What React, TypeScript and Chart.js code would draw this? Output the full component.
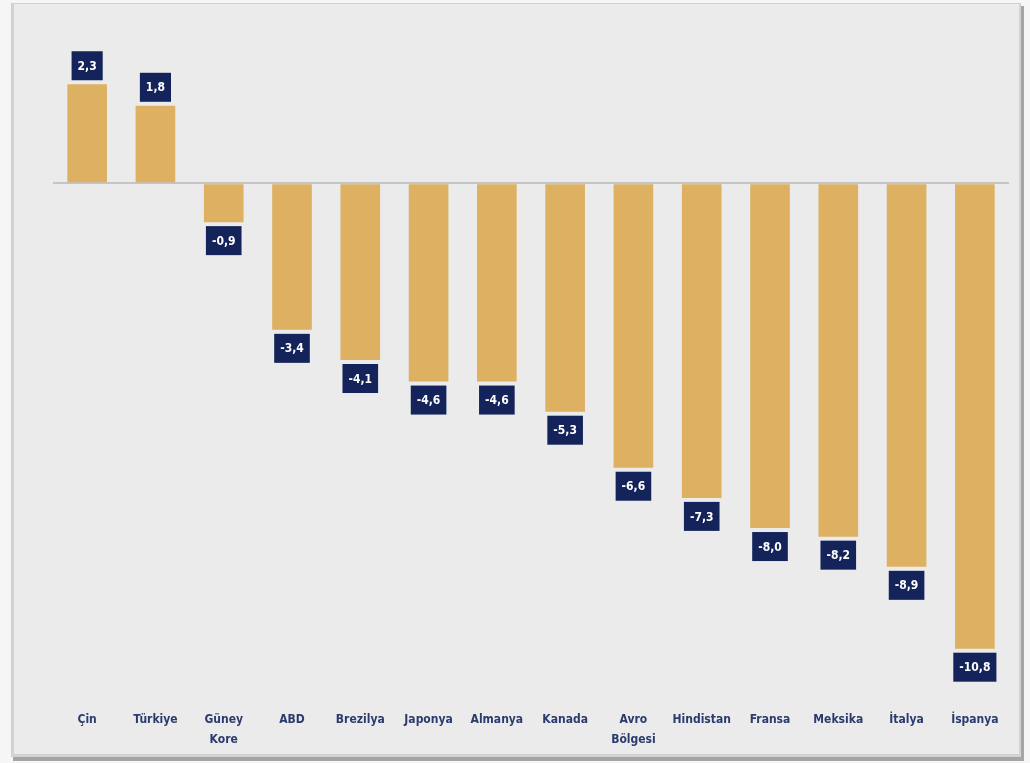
import React, { useEffect, useRef } from "react";
import { Chart, registerables } from "chart.js";

Chart.register(...registerables);

const categories: (string | string[])[] = [
  "Çin",
  "Türkiye",
  ["Güney", "Kore"],
  "ABD",
  "Brezilya",
  "Japonya",
  "Almanya",
  "Kanada",
  ["Avro", "Bölgesi"],
  "Hindistan",
  "Fransa",
  "Meksika",
  "İtalya",
  "İspanya",
];

const values: number[] = [2.3, 1.8, -0.9, -3.4, -4.1, -4.6, -4.6, -5.3, -6.6, -7.3, -8.0, -8.2, -8.9, -10.8];

const valueLabels: string[] = values.map((v) => v.toFixed(1).replace(".", ","));

const FONT = "'DejaVu Sans Condensed', 'Liberation Sans Narrow', 'Liberation Sans', sans-serif";

const backgroundPlugin = {
  id: "panelBg",
  beforeDraw(chart: any) {
    const ctx = chart.ctx;
    const w = chart.width;
    const h = chart.height;
    ctx.save();
    ctx.fillStyle = "#F6F6F6";
    ctx.fillRect(0, 0, w, h);
    ctx.fillStyle = "#A5A5A5";
    ctx.fillRect(13, 6, w - 13 - 6, h - 6 - 2);
    ctx.fillStyle = "#D2D2D2";
    ctx.fillRect(11, 3, w - 11 - 9, h - 3 - 6);
    ctx.fillStyle = "#EBEBEB";
    ctx.fillRect(14, 4, w - 14 - 11, h - 4 - 9);
    ctx.restore();
  },
};

const labelPlugin = {
  id: "boxLabels",
  afterDatasetsDraw(chart: any) {
    const ctx = chart.ctx;
    const meta = chart.getDatasetMeta(0);
    ctx.save();
    ctx.font = `bold 12px ${FONT}`;
    ctx.textAlign = "center";
    ctx.textBaseline = "middle";
    meta.data.forEach((bar: any, i: number) => {
      const v = values[i];
      const txt = valueLabels[i];
      const tw = ctx.measureText(txt).width;
      const bw = tw + 12;
      const bh = 29;
      const gap = 4;
      const x = bar.x;
      const top = v >= 0 ? bar.y - gap - bh : bar.y + gap;
      ctx.fillStyle = "#14245A";
      ctx.fillRect(x - bw / 2, top, bw, bh);
      ctx.fillStyle = "#FFFFFF";
      ctx.fillText(txt, x, top + bh / 2 + 1);
    });
    ctx.restore();
  },
};

export default function App() {
  const ref = useRef<HTMLCanvasElement | null>(null);

  useEffect(() => {
    if (!ref.current) return;
    const chart = new Chart(ref.current, {
      type: "bar",
      data: {
        labels: categories as any,
        datasets: [
          {
            data: values,
            backgroundColor: "#DDB062",
            borderWidth: 0,
            barPercentage: 0.58,
            categoryPercentage: 1,
          },
        ],
      },
      options: {
        animation: false,
        responsive: false,
        maintainAspectRatio: false,
        layout: { padding: { left: 53, right: 21, top: 11, bottom: 11 } },
        plugins: {
          legend: { display: false },
          tooltip: { enabled: false },
        },
        scales: {
          x: {
            grid: { display: false },
            border: { display: false },
            ticks: {
              color: "#2B3B6E",
              font: { family: FONT, size: 12, weight: "bold", lineHeight: 1.65 },
              padding: 2,
              maxRotation: 0,
              minRotation: 0,
              autoSkip: false,
            },
          },
          y: {
            min: -12,
            max: 4,
            ticks: { display: false, stepSize: 1 },
            border: { display: false },
            grid: {
              drawTicks: false,
              lineWidth: 2,
              color: (c: any) => (c.tick && c.tick.value === 0 ? "#C4C4C4" : "rgba(0,0,0,0)"),
            },
          },
        },
      },
      plugins: [backgroundPlugin, labelPlugin],
    });
    return () => chart.destroy();
  }, []);

  return (
    <div style={{ position: "absolute", left: 0, top: 0, width: 1030, height: 763 }}>
      <canvas ref={ref} width={1030} height={763} style={{ width: 1030, height: 763, display: "block" }} />
    </div>
  );
}
